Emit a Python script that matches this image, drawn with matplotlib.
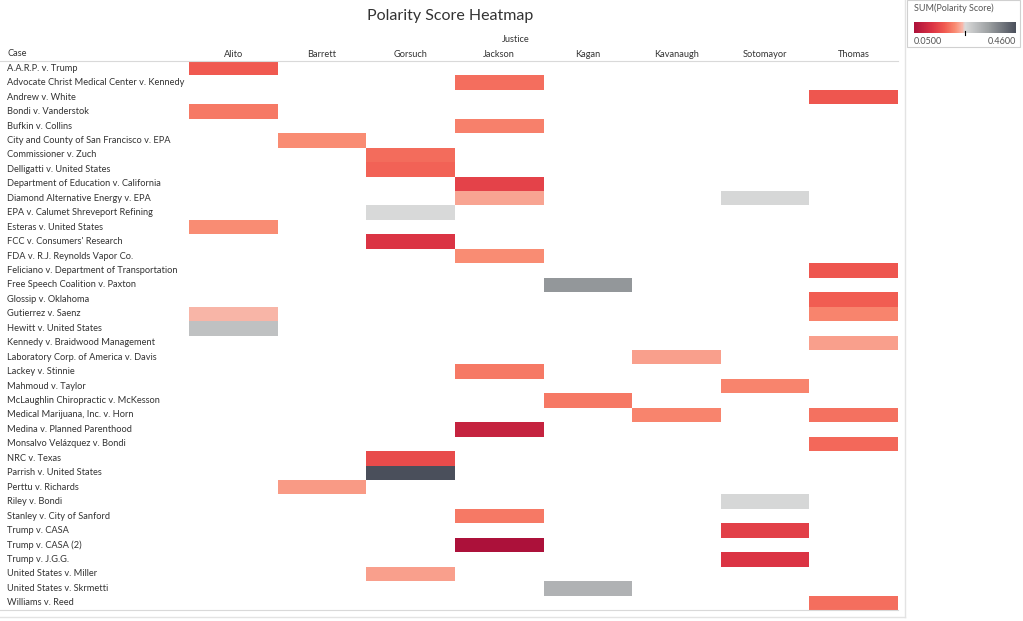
import numpy as np
import matplotlib
matplotlib.use('Agg')
import matplotlib.pyplot as plt
from matplotlib.colors import LinearSegmentedColormap, Normalize
from matplotlib.lines import Line2D
from matplotlib.patches import Rectangle

plt.rcParams['font.family'] = ['Lato', 'DejaVu Sans']

#---------------------------------------------------------#
# Data
#---------------------------------------------------------#
justices = ['Alito', 'Barrett', 'Gorsuch', 'Jackson', 'Kagan', 'Kavanaugh',
            'Sotomayor', 'Thomas']

cases = [
    'A.A.R.P. v. Trump',
    'Advocate Christ Medical Center v. Kennedy',
    'Andrew v. White',
    'Bondi v. Vanderstok',
    'Bufkin v. Collins',
    'City and County of San Francisco v. EPA',
    'Commissioner v. Zuch',
    'Delligatti v. United States',
    'Department of Education v. California',
    'Diamond Alternative Energy v. EPA',
    'EPA v. Calumet Shreveport Refining',
    'Esteras v. United States',
    "FCC v. Consumers' Research",
    'FDA v. R.J. Reynolds Vapor Co.',
    'Feliciano v. Department of Transportation',
    'Free Speech Coalition v. Paxton',
    'Glossip v. Oklahoma',
    'Gutierrez v. Saenz',
    'Hewitt v. United States',
    'Kennedy v. Braidwood Management',
    'Laboratory Corp. of America v. Davis',
    'Lackey v. Stinnie',
    'Mahmoud v. Taylor',
    'McLaughlin Chiropractic v. McKesson',
    'Medical Marijuana, Inc. v. Horn',
    'Medina v. Planned Parenthood',
    'Monsalvo Velázquez v. Bondi',
    'NRC v. Texas',
    'Parrish v. United States',
    'Perttu v. Richards',
    'Riley v. Bondi',
    'Stanley v. City of Sanford',
    'Trump v. CASA',
    'Trump v. CASA (2)',
    'Trump v. J.G.G.',
    'United States v. Miller',
    'United States v. Skrmetti',
    'Williams v. Reed',
]

# one entry per opinion: case, justice, polarity score
cell_case = [
    'A.A.R.P. v. Trump', 'Advocate Christ Medical Center v. Kennedy',
    'Andrew v. White', 'Bondi v. Vanderstok', 'Bufkin v. Collins',
    'City and County of San Francisco v. EPA', 'Commissioner v. Zuch',
    'Delligatti v. United States', 'Department of Education v. California',
    'Diamond Alternative Energy v. EPA', 'Diamond Alternative Energy v. EPA',
    'EPA v. Calumet Shreveport Refining', 'Esteras v. United States',
    "FCC v. Consumers' Research", 'FDA v. R.J. Reynolds Vapor Co.',
    'Feliciano v. Department of Transportation',
    'Free Speech Coalition v. Paxton', 'Glossip v. Oklahoma',
    'Gutierrez v. Saenz', 'Gutierrez v. Saenz', 'Hewitt v. United States',
    'Kennedy v. Braidwood Management', 'Laboratory Corp. of America v. Davis',
    'Lackey v. Stinnie', 'Mahmoud v. Taylor',
    'McLaughlin Chiropractic v. McKesson', 'Medical Marijuana, Inc. v. Horn',
    'Medical Marijuana, Inc. v. Horn', 'Medina v. Planned Parenthood',
    'Monsalvo Velázquez v. Bondi', 'NRC v. Texas', 'Parrish v. United States',
    'Perttu v. Richards', 'Riley v. Bondi', 'Stanley v. City of Sanford',
    'Trump v. CASA', 'Trump v. CASA (2)', 'Trump v. J.G.G.',
    'United States v. Miller', 'United States v. Skrmetti', 'Williams v. Reed',
]
cell_justice = [
    'Alito', 'Jackson', 'Thomas', 'Alito', 'Jackson',
    'Barrett', 'Gorsuch', 'Gorsuch', 'Jackson',
    'Jackson', 'Sotomayor',
    'Gorsuch', 'Alito', 'Gorsuch', 'Jackson',
    'Thomas', 'Kagan', 'Thomas',
    'Alito', 'Thomas', 'Alito',
    'Thomas', 'Kavanaugh', 'Jackson', 'Sotomayor',
    'Kagan', 'Kavanaugh', 'Thomas', 'Jackson',
    'Thomas', 'Gorsuch', 'Gorsuch', 'Barrett', 'Sotomayor', 'Jackson',
    'Sotomayor', 'Jackson', 'Sotomayor', 'Gorsuch', 'Kagan', 'Thomas',
]
cell_score = [
    0.173, 0.190, 0.168, 0.199, 0.206,
    0.215, 0.188, 0.181, 0.143,
    0.231, 0.260,
    0.258, 0.215, 0.125, 0.216,
    0.168, 0.362, 0.176,
    0.243, 0.210, 0.296,
    0.229, 0.229, 0.199, 0.210,
    0.199, 0.210, 0.193, 0.090,
    0.186, 0.155, 0.460, 0.225, 0.260, 0.199,
    0.140, 0.050, 0.125, 0.229, 0.320, 0.190,
]

#---------------------------------------------------------#
# Grid + colour scale (red -> grey -> dark grey diverging)
#---------------------------------------------------------#
grid = np.full((len(cases), len(justices)), np.nan)
for c, j, s in zip(cell_case, cell_justice, cell_score):
    grid[cases.index(c), justices.index(j)] = s
grid = np.ma.masked_invalid(grid)

vmin, vmax = 0.05, 0.46
stops = [(0.05, '#ac113a'), (0.125, '#dc3444'), (0.173, '#f05a50'),
         (0.215, '#f98b72'), (0.245, '#f8b8ab'), (0.255, '#dadada'),
         (0.35, '#9ca0a2'), (0.46, '#4a4f5b')]
cmap = LinearSegmentedColormap.from_list(
    'red_black', [((v - vmin) / (vmax - vmin), col) for v, col in stops])
cmap.set_bad((1, 1, 1, 0))
norm = Normalize(vmin, vmax)

#---------------------------------------------------------#
# Figure
#---------------------------------------------------------#
W, H = 1023, 621
fig = plt.figure(figsize=(W / 100, H / 100), dpi=100)

def fx(px):
    return px / W

def fy(py):
    return 1 - py / H

x0, x1, y0, y1 = 189, 898, 61, 610
ax = fig.add_axes([fx(x0), fy(y1), fx(x1) - fx(x0), fy(y0) - fy(y1)])
ax.pcolormesh(np.arange(len(justices) + 1) - 0.5,
              np.arange(len(cases) + 1) - 0.5,
              grid, cmap=cmap, norm=norm, edgecolors='none')
ax.set_xlim(-0.5, len(justices) - 0.5)
ax.set_ylim(len(cases) - 0.5, -0.5)
for s in ax.spines.values():
    s.set_visible(False)

txt = '#333333'
fs = 6.7
ax.xaxis.tick_top()
ax.set_xticks(range(len(justices)))
ax.set_xticklabels(justices, fontsize=fs, color=txt)
ax.tick_params(axis='x', length=0, pad=1.5)
ax.set_yticks([])

lab_x = (7 - x0) / (x1 - x0)
for i, c in enumerate(cases):
    ax.text(lab_x, i, c, transform=ax.get_yaxis_transform(),
            ha='left', va='center', fontsize=fs, color=txt)

fig.text(fx(7), fy(53), 'Case', ha='left', va='center', fontsize=fs, color=txt)
fig.text(fx(516), fy(40), 'Justice', ha='center', va='center',
         fontsize=fs, color=txt)
fig.text(fx(450), fy(16), 'Polarity Score Heatmap', ha='center',
         va='center', fontsize=11.5, color='#333333')

# header / frame lines
line_col = '#d9d9d9'
fig.add_artist(Line2D([0, fx(x1)], [fy(y0), fy(y0)], color=line_col, lw=0.8))
fig.add_artist(Line2D([0, fx(x1)], [fy(y1), fy(y1)], color=line_col, lw=0.8))
fig.add_artist(Line2D([fx(905), fx(905)], [fy(0), fy(617)], color='#e3e3e3', lw=1))
fig.add_artist(Line2D([0, fx(905)], [fy(617), fy(617)], color='#e3e3e3', lw=1))

#---------------------------------------------------------#
# Legend box
#---------------------------------------------------------#
fig.add_artist(Rectangle((fx(907), fy(47)), fx(1020) - fx(907),
                         fy(0) - fy(47), transform=fig.transFigure,
                         facecolor='none', edgecolor='#d0d0d0', lw=0.8,
                         zorder=-1))
fig.text(fx(914), fy(8), 'SUM(Polarity Score)', ha='left', va='center',
         fontsize=6.5, color='#555555')
cax = fig.add_axes([fx(914), fy(33), fx(1016) - fx(914), fy(22) - fy(33)])
sm = plt.cm.ScalarMappable(norm=norm, cmap=cmap)
cb = fig.colorbar(sm, cax=cax, orientation='horizontal')
cb.set_ticks([])
cb.outline.set_visible(False)
fig.add_artist(Line2D([fx(965), fx(965)], [fy(31), fy(35)], color='black',
                      lw=0.8, zorder=5))
fig.text(fx(914), fy(41), '0.0500', ha='left', va='center',
         fontsize=6.5, color='#555555')
fig.text(fx(1016), fy(41), '0.4600', ha='right', va='center',
         fontsize=6.5, color='#555555')

fig.savefig('out.png', dpi=100)
